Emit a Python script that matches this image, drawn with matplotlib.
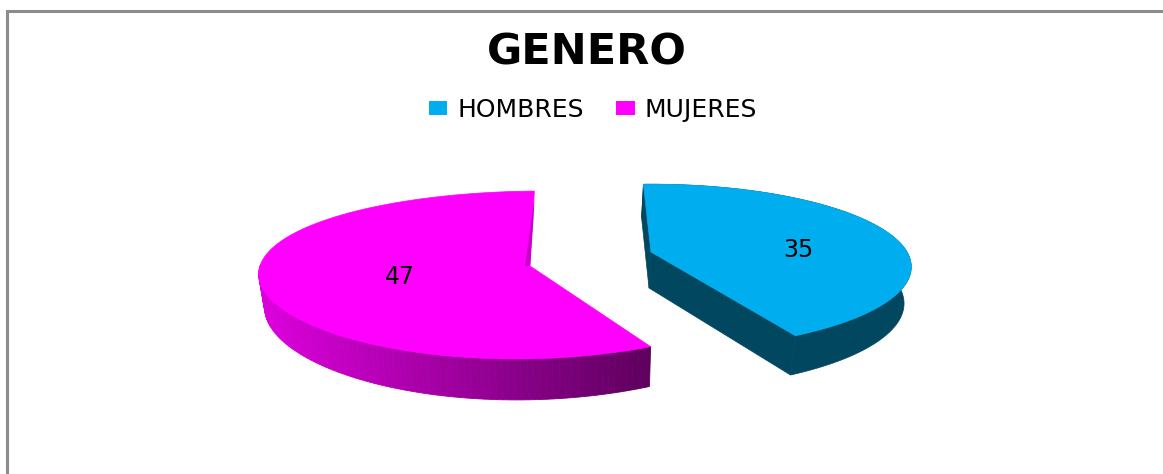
import numpy as np
import matplotlib
matplotlib.use('Agg')
import matplotlib.pyplot as plt
from matplotlib.patches import Patch
from matplotlib.colors import to_rgb

# data
categories = ['HOMBRES', 'MUJERES']
values = [35, 47]
colors = ['#00AEEF', '#FF00FF']

fig = plt.figure(figsize=(11.63, 4.74), dpi=100)
ax = fig.add_axes([0, 0, 1, 1])
ax.set_xlim(0, 1163)
ax.set_ylim(474, 0)
ax.axis('off')

# slice angles, clockwise from just past 12 o'clock
start = 92
sweeps = [v / sum(values) * 360 for v in values]


def project(theta, r, p):
    # flat disc seen in perspective, offsets from the slice apex
    u = r * np.cos(np.radians(theta))
    v = r * np.sin(np.radians(theta))
    return (p['rx'] * u + p['s'] * v) / (1 + p['kx'] * v), -p['ry'] * v / (1 + p['k'] * v)


def outline(t1, t2, p):
    th = np.linspace(t1, t2, 160)
    x, y = project(th, 1, p)
    return p['cx'] + x, p['cy'] + y


def lower(x, y, p):
    return p['lx'] + (x - p['cx']) * p['sx'], p['ly'] + (y - p['cy']) * p['sy']


# projection of each slice
blue = dict(cx=651, cy=252, rx=256, ry=80, k=0.18, kx=0.18, s=0, lx=649, ly=288, sx=0.98, sy=1.04)
pink = dict(cx=530, cy=266, rx=270, ry=83, k=0.107, kx=0.045, s=14, lx=531, ly=298.6, sx=0.982, sy=1.09)

# HOMBRES
t1, t2 = start, start - sweeps[0]
x, y = outline(t1, t2, blue)
xb, yb = lower(x, y, blue)
side = '#00475F'
ax.fill(np.r_[x[::-1], xb], np.r_[y[::-1], yb], color=side, lw=0.5)
ax.fill([x[-1], blue['cx'], blue['lx'], xb[-1]], [y[-1], blue['cy'], blue['ly'], yb[-1]], color=side, lw=0.5)
ax.fill([x[0], blue['cx'], blue['lx'], xb[0]], [y[0], blue['cy'], blue['ly'], yb[0]], color=side, lw=0.5)
ax.fill(np.r_[blue['cx'], x], np.r_[blue['cy'], y], color=colors[0], lw=0.5)

# MUJERES, wall shaded from left to right
t1, t2 = start - sweeps[0], start - 360
x, y = outline(t1, t2, pink)
xb, yb = lower(x, y, pink)
light = np.array(to_rgb('#DC00DC'))
dark = np.array(to_rgb('#5F005F'))
for i in range(len(x) - 1):
    if y[i] < pink['cy'] and y[i + 1] < pink['cy']:
        continue
    f = np.clip((x[i] - 262) / (649 - 262), 0, 1)
    c = light + (dark - light) * f
    ax.fill([x[i], x[i + 1], xb[i + 1], xb[i]], [y[i], y[i + 1], yb[i + 1], yb[i]], color=c, lw=0.6)
ax.fill(np.r_[pink['cx'], x], np.r_[pink['cy'], y], color=colors[1], lw=0.5)
# thin sliver of the inner wall next to the top edge
ax.fill([x[-1], x[-1] - 1, pink['cx'], pink['cx'] - 5],
        [y[-1] + 8, y[-1] + 30, pink['cy'], pink['cy']], color='#C800C8', lw=0)

# labels
ax.text(798, 250, str(values[0]), ha='center', va='center', fontsize=17, color='black')
ax.text(400, 277, str(values[1]), ha='center', va='center', fontsize=17, color='black')

ax.text(587, 52, 'GENERO', ha='center', va='center', fontsize=31, fontweight='bold', color='black')

handles = [Patch(facecolor=c, edgecolor='none') for c in colors]
ax.legend(handles, categories, ncol=2, frameon=False, fontsize=18,
          loc='center', bbox_to_anchor=(593 / 1163, 1 - 110 / 474),
          handlelength=0.74, handleheight=0.5, handletextpad=0.4, columnspacing=1.3)

# chart frame, only top and left are in the picture
ax.plot([6.5, 6.5, 1163], [474, 11, 11], color='#8C8C8C', lw=2.2, solid_joinstyle='miter')

fig.savefig('out.png', dpi=100)
